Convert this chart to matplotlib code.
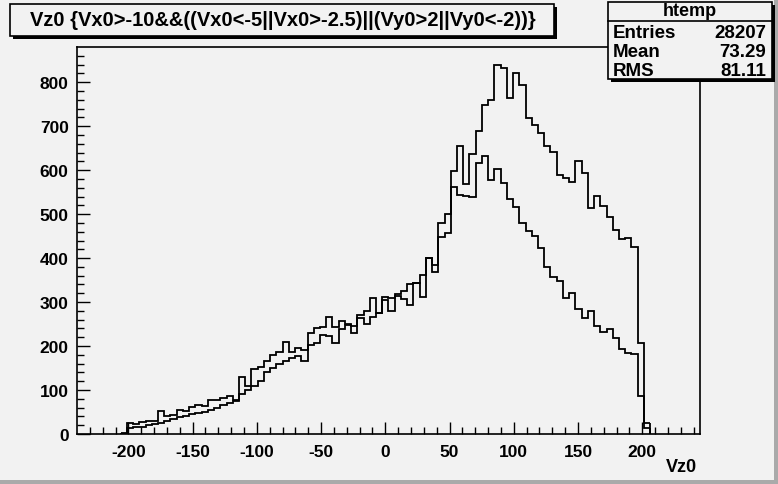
import numpy as np
import matplotlib
matplotlib.use("Agg")
import matplotlib.pyplot as plt

plt.rcParams['font.family'] = ['Liberation Sans', 'DejaVu Sans']
plt.rcParams['axes.unicode_minus'] = False

# histogram binning: 100 bins from -240 to 245
x_min, x_max, n_bins = -240.0, 245.0, 100
first_bin = 7

# series A (higher peak) and B, bins k = 7 .. 91
vals_a = [0, 24, 22, 27, 29, 30, 52, 42, 44, 55, 52, 62, 65, 63, 77, 78, 81, 87, 77, 129,
          110, 148, 152, 165, 180, 186,
          209, 186, 195, 190, 229, 240, 243, 265, 243, 256, 249, 246, 271, 279, 309, 276,
          311, 309, 318, 325, 340, 343, 362, 401, 384, 480, 500,
          598, 654, 569, 636, 689, 748, 759, 839, 832, 764, 820, 793, 718, 703, 684, 654, 641,
          590, 582, 572, 620, 593, 513, 541, 519, 493, 464, 444, 445, 425, 207, 24]
vals_b = [2, 13, 15, 17, 20, 22, 25, 30, 35, 38, 42, 45, 48, 50, 55, 60, 65, 70, 75, 90,
          100, 110, 120, 140, 150, 160,
          165, 172, 178, 165, 203, 206, 224, 222, 206, 239, 248, 230, 263, 250, 265, 275,
          305, 280, 313, 306, 293, 343, 311, 400, 368, 447, 456,
          561, 544, 541, 539, 616, 632, 578, 602, 570, 534, 516, 480, 462, 450, 422, 379, 358,
          349, 309, 320, 284, 263, 279, 245, 232, 238, 218, 193, 184, 181, 87, 14]

title_text = "Vz0 {Vx0>-10&&((Vx0<-5||Vx0>-2.5)||(Vy0>2||Vy0<-2))}"
x_label = "Vz0"
stats_rows = [("Entries", "28207"), ("Mean", "73.29"), ("RMS", "81.11")]

W, H = 778, 485
fig = plt.figure(figsize=(W / 100, H / 100), dpi=100)
fig.patch.set_facecolor("#f2f2f2")

# frame: x 77..700 px, y 48..435 px
ax = fig.add_axes([77 / W, 1 - 435 / H, (700 - 77) / W, (435 - 48) / H])
ax.set_facecolor("#f2f2f2")

edges = np.linspace(x_min, x_max, n_bins + 1)
for vals in (vals_a, vals_b):
    n = len(vals)
    e = edges[first_bin:first_bin + n + 1]
    ax.stairs(vals, e, color="black", linewidth=1.3, baseline=None)
    ax.vlines([e[0], e[-1]], 0, [vals[0], vals[-1]], color="black", linewidth=1.3)

ax.set_xlim(x_min, x_max)
ax.set_ylim(0, 880)
for s in ax.spines.values():
    s.set_linewidth(1.2)

ax.set_xticks(np.arange(-200, 201, 50))
ax.set_xticks(np.arange(-230, 245, 10), minor=True)
ax.set_yticks(np.arange(0, 801, 100))
ax.set_yticks(np.arange(0, 880, 20), minor=True)
ax.tick_params(axis="both", which="major", direction="in", length=9, width=1,
               labelsize=12.5)
ax.tick_params(axis="both", which="minor", direction="in", length=5, width=1)
ax.tick_params(axis="x", pad=7)
ax.tick_params(axis="y", pad=6)
for lab in ax.get_xticklabels() + ax.get_yticklabels():
    lab.set_fontweight("bold")

fig.text(697 / W, 1 - 468 / H, x_label, ha="right", va="center", fontsize=13,
         fontweight="bold")

# title box with shadow
tx0, ty0, tx1, ty1 = 10, 5, 554, 37
fig.patches.append(plt.Rectangle(((tx0 + 3) / W, 1 - (ty1 + 3) / H), (tx1 - tx0) / W, 3 / H,
                                 transform=fig.transFigure, facecolor="black"))
fig.patches.append(plt.Rectangle((tx1 / W, 1 - (ty1 + 3) / H), 3 / W, (ty1 - ty0) / H,
                                 transform=fig.transFigure, facecolor="black"))
fig.patches.append(plt.Rectangle((tx0 / W, 1 - ty1 / H), (tx1 - tx0) / W, (ty1 - ty0) / H,
                                 transform=fig.transFigure, facecolor="#f2f2f2",
                                 edgecolor="black", linewidth=1.2))
fig.text(283 / W, 1 - 21 / H, title_text, ha="center", va="center", fontsize=14.5,
         fontweight="bold", family=['Liberation Sans Narrow', 'Liberation Sans'])

# stats box with shadow
bx0, by0, bx1, by1 = 608, 3, 772, 80
fig.patches.append(plt.Rectangle((bx1 / W, 1 - (by1 + 3) / H), 3 / W, (by1 - by0) / H,
                                 transform=fig.transFigure, facecolor="black"))
fig.patches.append(plt.Rectangle(((bx0 + 3) / W, 1 - (by1 + 3) / H), (bx1 - bx0) / W, 3 / H,
                                 transform=fig.transFigure, facecolor="black"))
fig.patches.append(plt.Rectangle((bx0 / W, 1 - by1 / H), (bx1 - bx0) / W, (by1 - by0) / H,
                                 transform=fig.transFigure, facecolor="#f2f2f2",
                                 edgecolor="black", linewidth=1.2))
fig.add_artist(plt.Line2D([bx0 / W, bx1 / W], [1 - 22 / H, 1 - 22 / H], color="black",
                          linewidth=1.2))
fig.text((bx0 + bx1) / 2 / W, 1 - 12 / H, "htemp", ha="center", va="center",
         fontsize=13, fontweight="bold")
for i, (k, v) in enumerate(stats_rows):
    yy = 1 - (34 + i * 18.5) / H
    fig.text((bx0 + 5) / W, yy, k, ha="left", va="center", fontsize=13.5, fontweight="bold")
    fig.text((bx1 - 6) / W, yy, v, ha="right", va="center", fontsize=13.5, fontweight="bold")

# right/bottom window border
fig.add_artist(plt.Rectangle((1 - 4 / W, 0), 4 / W, 1, transform=fig.transFigure,
                             facecolor="#aaaaaa", edgecolor="none"))
fig.add_artist(plt.Rectangle((0, 0), 1, 4 / H, transform=fig.transFigure,
                             facecolor="#aaaaaa", edgecolor="none"))

fig.savefig("out.png", dpi=100, facecolor=fig.get_facecolor())
